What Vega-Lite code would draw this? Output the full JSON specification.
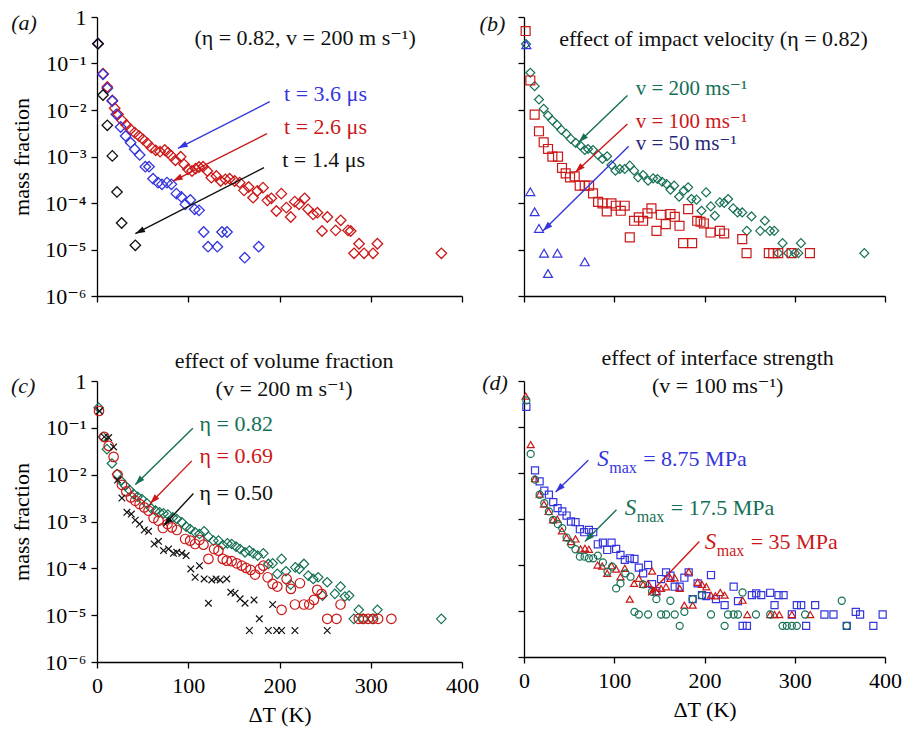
{
"$schema":"https://vega.github.io/schema/vega-lite/v6.json",
"padding":{"left":10,"top":6,"right":5,"bottom":5},
"config":{"font":"'Liberation Serif', 'Times New Roman', 'DejaVu Serif', serif","view":{"stroke":null},
"axis":{"grid":false,"domainColor":"#000","tickColor":"#000","domainWidth":1.3,"tickWidth":1.3,"tickSize":6,"labelFont":"'Liberation Serif', 'Times New Roman', 'DejaVu Serif', serif","labelFontSize":22,"labelColor":"#000","titleFont":"'Liberation Serif', 'Times New Roman', 'DejaVu Serif', serif","titleFontSize":22,"titleFontWeight":"normal","titleColor":"#000"},
"text":{"font":"'Liberation Serif', 'Times New Roman', 'DejaVu Serif', serif"}},
"datasets":{
"pa":[
{"s":"a2.6","x":1.1,"y":0.267},{"s":"a2.6","x":6.6,"y":0.0604},{"s":"a2.6","x":11.3,"y":0.0312},{"s":"a2.6","x":16.8,"y":0.0161},{"s":"a2.6","x":19.4,"y":0.0109},{"s":"a2.6","x":23,"y":0.00807},{"s":"a2.6","x":27.4,"y":0.006},{"s":"a2.6","x":32.2,"y":0.00476},{"s":"a2.6","x":36.9,"y":0.00384},{"s":"a2.6","x":41.3,"y":0.00326},{"s":"a2.6","x":46,"y":0.00276},{"s":"a2.6","x":50.4,"y":0.00234},{"s":"a2.6","x":55.2,"y":0.00192},{"s":"a2.6","x":59.6,"y":0.00155},{"s":"a2.6","x":64.3,"y":0.00136},{"s":"a2.6","x":69.1,"y":0.00127},{"s":"a2.6","x":74.2,"y":0.00138},{"s":"a2.6","x":77.8,"y":0.00121},{"s":"a2.6","x":81.5,"y":0.00103},{"s":"a2.6","x":85.9,"y":0.000828},{"s":"a2.6","x":91.7,"y":0.00099},{"s":"a2.6","x":95.4,"y":0.000679},{"s":"a2.6","x":99.7,"y":0.00053},{"s":"a2.6","x":104.1,"y":0.000488},{"s":"a2.6","x":108.1,"y":0.000547},{"s":"a2.6","x":111.8,"y":0.000594},{"s":"a2.6","x":116.2,"y":0.000604},{"s":"a2.6","x":120.9,"y":0.000488},{"s":"a2.6","x":125.3,"y":0.000351},{"s":"a2.6","x":130.8,"y":0.000381},{"s":"a2.6","x":135.5,"y":0.000297},{"s":"a2.6","x":140.7,"y":0.000323},{"s":"a2.6","x":145.4,"y":0.000333},{"s":"a2.6","x":150.9,"y":0.000297},{"s":"a2.6","x":156.4,"y":0.000274},{"s":"a2.6","x":161.1,"y":0.000187},{"s":"a2.6","x":166.2,"y":0.000221},{"s":"a2.6","x":171,"y":0.00013},{"s":"a2.6","x":175.7,"y":0.000181},{"s":"a2.6","x":181.9,"y":0.000214},{"s":"a2.6","x":186.7,"y":0.000114},{"s":"a2.6","x":191.1,"y":0.000126},{"s":"a2.6","x":196.6,"y":6.73e-5},{"s":"a2.6","x":202,"y":0.000159},{"s":"a2.6","x":207.5,"y":7.94e-5},{"s":"a2.6","x":212.3,"y":5e-5},{"s":"a2.6","x":216.7,"y":0.000107},{"s":"a2.6","x":221.4,"y":9.36e-5},{"s":"a2.6","x":227.6,"y":0.000126},{"s":"a2.6","x":231.3,"y":7.31e-5},{"s":"a2.6","x":236.8,"y":5.7e-5},{"s":"a2.6","x":241.5,"y":6.19e-5},{"s":"a2.6","x":246.6,"y":2.5e-5},{"s":"a2.6","x":252.5,"y":5e-5},{"s":"a2.6","x":261.6,"y":2.58e-5},{"s":"a2.6","x":267.1,"y":4.24e-5},{"s":"a2.6","x":275.1,"y":2.58e-5},{"s":"a2.6","x":278,"y":2.5e-5},{"s":"a2.6","x":281.7,"y":8.28e-6},{"s":"a2.6","x":287.2,"y":1.33e-5},{"s":"a2.6","x":292.7,"y":8.28e-6},{"s":"a2.6","x":302.5,"y":8.28e-6},{"s":"a2.6","x":307.3,"y":1.33e-5},{"s":"a2.6","x":377.4,"y":8.28e-6},
{"s":"a3.6","x":1.1,"y":0.267},{"s":"a3.6","x":6.6,"y":0.0585},{"s":"a3.6","x":11.3,"y":0.0292},{"s":"a3.6","x":16.8,"y":0.0156},{"s":"a3.6","x":21.2,"y":0.00807},{"s":"a3.6","x":25.9,"y":0.00431},{"s":"a3.6","x":31.4,"y":0.00276},{"s":"a3.6","x":36.9,"y":0.00198},{"s":"a3.6","x":41.3,"y":0.00143},{"s":"a3.6","x":46.8,"y":0.00108},{"s":"a3.6","x":53,"y":0.000604},{"s":"a3.6","x":57,"y":0.000604},{"s":"a3.6","x":61.4,"y":0.000333},{"s":"a3.6","x":66.9,"y":0.000274},{"s":"a3.6","x":71.2,"y":0.000252},{"s":"a3.6","x":76.7,"y":0.000274},{"s":"a3.6","x":81.5,"y":0.000252},{"s":"a3.6","x":87,"y":0.000159},{"s":"a3.6","x":92.4,"y":0.000135},{"s":"a3.6","x":96.8,"y":9.36e-5},{"s":"a3.6","x":102.3,"y":0.000116},{"s":"a3.6","x":107.1,"y":7.31e-5},{"s":"a3.6","x":111.8,"y":6.95e-5},{"s":"a3.6","x":116.9,"y":2.38e-5},{"s":"a3.6","x":121.7,"y":1.15e-5},{"s":"a3.6","x":131.9,"y":1.15e-5},{"s":"a3.6","x":137,"y":2.38e-5},{"s":"a3.6","x":142.5,"y":2.38e-5},{"s":"a3.6","x":161.9,"y":6.67e-6},{"s":"a3.6","x":177.2,"y":1.15e-5},
{"s":"a1.4","x":1.1,"y":0.267},{"s":"a1.4","x":6.6,"y":0.021},{"s":"a1.4","x":11.3,"y":0.00468},{"s":"a1.4","x":16.8,"y":0.00103},{"s":"a1.4","x":21.9,"y":0.000173},{"s":"a1.4","x":27,"y":3.72e-5},{"s":"a1.4","x":42,"y":1.23e-5}
],
"pb":[
{"s":"b200","x":2.2,"y":0.262},{"s":"b200","x":7,"y":0.0631},{"s":"b200","x":11.8,"y":0.0326},{"s":"b200","x":16.6,"y":0.0168},{"s":"b200","x":21.8,"y":0.0106},{"s":"b200","x":26.6,"y":0.0076},{"s":"b200","x":31.4,"y":0.00593},{"s":"b200","x":36.6,"y":0.00478},{"s":"b200","x":41.4,"y":0.00373},{"s":"b200","x":46.9,"y":0.00306},{"s":"b200","x":51.8,"y":0.00239},{"s":"b200","x":57.3,"y":0.00196},{"s":"b200","x":62.5,"y":0.00171},{"s":"b200","x":67.3,"y":0.00138},{"s":"b200","x":71,"y":0.00145},{"s":"b200","x":76.5,"y":0.00138},{"s":"b200","x":82.1,"y":0.00108},{"s":"b200","x":86.9,"y":0.000885},{"s":"b200","x":92.1,"y":0.00101},{"s":"b200","x":96.9,"y":0.000657},{"s":"b200","x":101.3,"y":0.000496},{"s":"b200","x":106.1,"y":0.000538},{"s":"b200","x":111.6,"y":0.000538},{"s":"b200","x":117.2,"y":0.000635},{"s":"b200","x":122,"y":0.000496},{"s":"b200","x":126.4,"y":0.000356},{"s":"b200","x":132,"y":0.0004},{"s":"b200","x":137.5,"y":0.000302},{"s":"b200","x":143.1,"y":0.000339},{"s":"b200","x":147.9,"y":0.000328},{"s":"b200","x":153,"y":0.000287},{"s":"b200","x":157.9,"y":0.000256},{"s":"b200","x":162.3,"y":0.000193},{"s":"b200","x":166.4,"y":0.000236},{"s":"b200","x":171.9,"y":0.000136},{"s":"b200","x":177.1,"y":0.000184},{"s":"b200","x":181.9,"y":0.000217},{"s":"b200","x":185.6,"y":0.000122},{"s":"b200","x":191.1,"y":0.000118},{"s":"b200","x":196.7,"y":6.81e-5},{"s":"b200","x":201.8,"y":0.000169},{"s":"b200","x":207,"y":8.45e-5},{"s":"b200","x":211.5,"y":5.32e-5},{"s":"b200","x":217,"y":0.000103},{"s":"b200","x":221.8,"y":9.98e-5},{"s":"b200","x":226.2,"y":0.000122},{"s":"b200","x":231.8,"y":7.65e-5},{"s":"b200","x":236.6,"y":6.27e-5},{"s":"b200","x":241.8,"y":6.27e-5},{"s":"b200","x":246.9,"y":2.52e-5},{"s":"b200","x":252.1,"y":5.14e-5},{"s":"b200","x":261.7,"y":2.52e-5},{"s":"b200","x":266.9,"y":4.15e-5},{"s":"b200","x":272.5,"y":2.52e-5},{"s":"b200","x":277.3,"y":2.52e-5},{"s":"b200","x":281.7,"y":8.34e-6},{"s":"b200","x":286.5,"y":1.37e-5},{"s":"b200","x":292.8,"y":8.34e-6},{"s":"b200","x":300.2,"y":8.34e-6},{"s":"b200","x":303.9,"y":8.34e-6},{"s":"b200","x":306.8,"y":1.37e-5},{"s":"b200","x":377.1,"y":8.34e-6},
{"s":"b100","x":1.8,"y":0.499},{"s":"b100","x":7,"y":0.0432},{"s":"b100","x":11.8,"y":0.00798},{"s":"b100","x":16.6,"y":0.00349},{"s":"b100","x":21.8,"y":0.00202},{"s":"b100","x":26.6,"y":0.00145},{"s":"b100","x":31.4,"y":0.000993},{"s":"b100","x":37.7,"y":0.000993},{"s":"b100","x":42.1,"y":0.000566},{"s":"b100","x":46.2,"y":0.000435},{"s":"b100","x":51,"y":0.000356},{"s":"b100","x":56.2,"y":0.000374},{"s":"b100","x":61.7,"y":0.000236},{"s":"b100","x":67.3,"y":0.000236},{"s":"b100","x":72.1,"y":0.000236},{"s":"b100","x":76.5,"y":0.000161},{"s":"b100","x":82.1,"y":0.000106},{"s":"b100","x":86.9,"y":9.8e-5},{"s":"b100","x":91.7,"y":6.59e-5},{"s":"b100","x":96.9,"y":9.8e-5},{"s":"b100","x":101.7,"y":8.73e-5},{"s":"b100","x":107.2,"y":6.81e-5},{"s":"b100","x":111.6,"y":8.73e-5},{"s":"b100","x":117.2,"y":1.82e-5},{"s":"b100","x":122,"y":4.15e-5},{"s":"b100","x":127.2,"y":4.9e-5},{"s":"b100","x":132,"y":4.15e-5},{"s":"b100","x":136.8,"y":5.97e-5},{"s":"b100","x":141.2,"y":7.65e-5},{"s":"b100","x":146.8,"y":2.52e-5},{"s":"b100","x":151.6,"y":5.58e-5},{"s":"b100","x":157.1,"y":3.52e-5},{"s":"b100","x":162.3,"y":5.77e-5},{"s":"b100","x":167.1,"y":5.06e-5},{"s":"b100","x":172.3,"y":3.24e-5},{"s":"b100","x":176.3,"y":1.37e-5},{"s":"b100","x":181.9,"y":7.4e-5},{"s":"b100","x":186.3,"y":1.37e-5},{"s":"b100","x":191.9,"y":4.15e-5},{"s":"b100","x":195.6,"y":3.95e-5},{"s":"b100","x":199.3,"y":3.63e-5},{"s":"b100","x":206.7,"y":2.32e-5},{"s":"b100","x":217,"y":2.52e-5},{"s":"b100","x":221.8,"y":2.21e-5},{"s":"b100","x":241.8,"y":1.67e-5},{"s":"b100","x":246.6,"y":8.34e-6},{"s":"b100","x":271.3,"y":8.34e-6},{"s":"b100","x":276.2,"y":8.34e-6},{"s":"b100","x":281.7,"y":8.34e-6},{"s":"b100","x":296.5,"y":8.34e-6},{"s":"b100","x":316.8,"y":8.34e-6},
{"s":"b50","x":2.6,"y":0.253},{"s":"b50","x":7,"y":0.000175},{"s":"b50","x":11.8,"y":6.48e-5},{"s":"b50","x":16.6,"y":2.84e-5},{"s":"b50","x":22.2,"y":8.34e-6},{"s":"b50","x":26.6,"y":3.04e-6},{"s":"b50","x":37,"y":8.34e-6},{"s":"b50","x":67.3,"y":5.42e-6}
],
"pc":[
{"s":"c0.82","x":1.8,"y":0.27},{"s":"c0.82","x":6.6,"y":0.0641},{"s":"c0.82","x":10.9,"y":0.035},{"s":"c0.82","x":16.4,"y":0.0173},{"s":"c0.82","x":21.9,"y":0.0103},{"s":"c0.82","x":26.2,"y":0.0074},{"s":"c0.82","x":31,"y":0.00579},{"s":"c0.82","x":35.7,"y":0.00468},{"s":"c0.82","x":40.1,"y":0.00385},{"s":"c0.82","x":44.5,"y":0.00338},{"s":"c0.82","x":49.2,"y":0.00301},{"s":"c0.82","x":54.7,"y":0.00243},{"s":"c0.82","x":59.1,"y":0.00194},{"s":"c0.82","x":64.2,"y":0.0017},{"s":"c0.82","x":68.5,"y":0.00157},{"s":"c0.82","x":72.9,"y":0.00149},{"s":"c0.82","x":77.7,"y":0.0014},{"s":"c0.82","x":83.1,"y":0.00122},{"s":"c0.82","x":87.5,"y":0.00113},{"s":"c0.82","x":93,"y":0.000959},{"s":"c0.82","x":97.7,"y":0.000775},{"s":"c0.82","x":102.1,"y":0.00069},{"s":"c0.82","x":107.5,"y":0.000586},{"s":"c0.82","x":112.3,"y":0.00054},{"s":"c0.82","x":117.4,"y":0.000616},{"s":"c0.82","x":122.1,"y":0.000474},{"s":"c0.82","x":127.6,"y":0.00039},{"s":"c0.82","x":133.1,"y":0.00039},{"s":"c0.82","x":137.8,"y":0.000315},{"s":"c0.82","x":142.9,"y":0.000342},{"s":"c0.82","x":147.6,"y":0.000331},{"s":"c0.82","x":152.4,"y":0.00029},{"s":"c0.82","x":156.8,"y":0.000259},{"s":"c0.82","x":162.2,"y":0.00022},{"s":"c0.82","x":167,"y":0.000239},{"s":"c0.82","x":171.3,"y":0.000209},{"s":"c0.82","x":176.1,"y":0.000187},{"s":"c0.82","x":182.3,"y":0.000209},{"s":"c0.82","x":187.8,"y":0.000124},{"s":"c0.82","x":192.5,"y":0.000128},{"s":"c0.82","x":197.6,"y":7.6e-5},{"s":"c0.82","x":202.3,"y":0.000159},{"s":"c0.82","x":207.1,"y":8.66e-5},{"s":"c0.82","x":212.2,"y":4.5e-5},{"s":"c0.82","x":217.3,"y":0.000105},{"s":"c0.82","x":221.7,"y":9.7e-5},{"s":"c0.82","x":226.8,"y":0.000124},{"s":"c0.82","x":231.5,"y":7e-5},{"s":"c0.82","x":237,"y":5.94e-5},{"s":"c0.82","x":242.4,"y":6.45e-5},{"s":"c0.82","x":247.2,"y":2.62e-5},{"s":"c0.82","x":252.3,"y":5.05e-5},{"s":"c0.82","x":260.7,"y":2.85e-5},{"s":"c0.82","x":266.9,"y":4.08e-5},{"s":"c0.82","x":271.6,"y":2.5e-5},{"s":"c0.82","x":276.3,"y":2.62e-5},{"s":"c0.82","x":281.4,"y":8.35e-6},{"s":"c0.82","x":286.9,"y":1.3e-5},{"s":"c0.82","x":291.7,"y":8.35e-6},{"s":"c0.82","x":301.9,"y":8.35e-6},{"s":"c0.82","x":307.3,"y":1.3e-5},{"s":"c0.82","x":377.3,"y":8.35e-6},
{"s":"c0.69","x":2.2,"y":0.23},{"s":"c0.69","x":8,"y":0.0641},{"s":"c0.69","x":12.8,"y":0.0412},{"s":"c0.69","x":18.2,"y":0.024},{"s":"c0.69","x":22.6,"y":0.00993},{"s":"c0.69","x":27.3,"y":0.00608},{"s":"c0.69","x":32.1,"y":0.00439},{"s":"c0.69","x":37.2,"y":0.00327},{"s":"c0.69","x":41.9,"y":0.00277},{"s":"c0.69","x":46.7,"y":0.00236},{"s":"c0.69","x":51.8,"y":0.002},{"s":"c0.69","x":56.5,"y":0.0017},{"s":"c0.69","x":62,"y":0.00119},{"s":"c0.69","x":67.4,"y":0.00104},{"s":"c0.69","x":72.2,"y":0.000726},{"s":"c0.69","x":77.3,"y":0.000883},{"s":"c0.69","x":82,"y":0.00075},{"s":"c0.69","x":87.5,"y":0.000658},{"s":"c0.69","x":96.6,"y":0.000423},{"s":"c0.69","x":102.1,"y":0.00039},{"s":"c0.69","x":107.5,"y":0.000331},{"s":"c0.69","x":112.3,"y":0.000403},{"s":"c0.69","x":116.7,"y":0.00032},{"s":"c0.69","x":122.1,"y":0.000159},{"s":"c0.69","x":128.3,"y":0.000259},{"s":"c0.69","x":133.1,"y":0.000239},{"s":"c0.69","x":137.8,"y":0.000159},{"s":"c0.69","x":142.2,"y":0.000146},{"s":"c0.69","x":147.6,"y":0.000142},{"s":"c0.69","x":153.1,"y":0.000128},{"s":"c0.69","x":158.6,"y":0.000114},{"s":"c0.69","x":163.3,"y":0.000102},{"s":"c0.69","x":168.4,"y":9.25e-5},{"s":"c0.69","x":173.2,"y":7.35e-5},{"s":"c0.69","x":178.6,"y":9.7e-5},{"s":"c0.69","x":182.3,"y":0.000114},{"s":"c0.69","x":187,"y":6.45e-5},{"s":"c0.69","x":192.5,"y":4.65e-5},{"s":"c0.69","x":197.6,"y":4.08e-5},{"s":"c0.69","x":202.3,"y":1.3e-5},{"s":"c0.69","x":207.8,"y":5.94e-5},{"s":"c0.69","x":212.5,"y":3.64e-5},{"s":"c0.69","x":216.9,"y":1.69e-5},{"s":"c0.69","x":222.4,"y":4.81e-5},{"s":"c0.69","x":226.8,"y":1.69e-5},{"s":"c0.69","x":232.6,"y":1.69e-5},{"s":"c0.69","x":237.7,"y":2.12e-5},{"s":"c0.69","x":241.3,"y":3.47e-5},{"s":"c0.69","x":246.1,"y":2.85e-5},{"s":"c0.69","x":252.3,"y":8.35e-6},{"s":"c0.69","x":262.5,"y":8.35e-6},{"s":"c0.69","x":266.9,"y":1.69e-5},{"s":"c0.69","x":286.9,"y":8.35e-6},{"s":"c0.69","x":291.7,"y":8.35e-6},{"s":"c0.69","x":297.1,"y":8.35e-6},{"s":"c0.69","x":302.6,"y":8.35e-6},{"s":"c0.69","x":308.1,"y":8.35e-6},{"s":"c0.69","x":322.6,"y":8.35e-6},
{"s":"c0.50","x":2.6,"y":0.23},{"s":"c0.50","x":8,"y":0.0641},{"s":"c0.50","x":12.8,"y":0.062},{"s":"c0.50","x":18.2,"y":0.0392},{"s":"c0.50","x":22.6,"y":0.00765},{"s":"c0.50","x":27.3,"y":0.00316},{"s":"c0.50","x":32.8,"y":0.00157},{"s":"c0.50","x":37.6,"y":0.00144},{"s":"c0.50","x":41.9,"y":0.00107},{"s":"c0.50","x":46.7,"y":0.000883},{"s":"c0.50","x":51.8,"y":0.000658},{"s":"c0.50","x":56.5,"y":0.000616},{"s":"c0.50","x":62.7,"y":0.000331},{"s":"c0.50","x":67.4,"y":0.000377},{"s":"c0.50","x":72.9,"y":0.000239},{"s":"c0.50","x":78.4,"y":0.000259},{"s":"c0.50","x":83.8,"y":0.000209},{"s":"c0.50","x":87.5,"y":0.00022},{"s":"c0.50","x":93,"y":0.000209},{"s":"c0.50","x":97.7,"y":0.000187},{"s":"c0.50","x":102.8,"y":9.7e-5},{"s":"c0.50","x":107.5,"y":6.45e-5},{"s":"c0.50","x":112.3,"y":0.000114},{"s":"c0.50","x":117.4,"y":5.94e-5},{"s":"c0.50","x":122.1,"y":1.8e-5},{"s":"c0.50","x":125.8,"y":5.66e-5},{"s":"c0.50","x":130.5,"y":5.94e-5},{"s":"c0.50","x":134.9,"y":5.66e-5},{"s":"c0.50","x":142.2,"y":5.94e-5},{"s":"c0.50","x":146.6,"y":3.09e-5},{"s":"c0.50","x":151.3,"y":2.94e-5},{"s":"c0.50","x":156.8,"y":2.23e-5},{"s":"c0.50","x":162.2,"y":1.8e-5},{"s":"c0.50","x":167,"y":4.71e-6},{"s":"c0.50","x":172.1,"y":2.12e-5},{"s":"c0.50","x":177.9,"y":8.35e-6},{"s":"c0.50","x":187.8,"y":4.71e-6},{"s":"c0.50","x":192.5,"y":1.69e-5},{"s":"c0.50","x":196.9,"y":4.71e-6},{"s":"c0.50","x":202.3,"y":4.71e-6},{"s":"c0.50","x":216.9,"y":4.71e-6},{"s":"c0.50","x":252.3,"y":4.71e-6}
],
"pd":[
{"s":"d8.75","x":2.6,"y":0.275},{"s":"d8.75","x":12.2,"y":0.0114},{"s":"d8.75","x":17.3,"y":0.00658},{"s":"d8.75","x":22.5,"y":0.00412},{"s":"d8.75","x":27.6,"y":0.00337},{"s":"d8.75","x":32.4,"y":0.00233},{"s":"d8.75","x":37.2,"y":0.00172},{"s":"d8.75","x":42.4,"y":0.00146},{"s":"d8.75","x":47.2,"y":0.00119},{"s":"d8.75","x":52,"y":0.000882},{"s":"d8.75","x":57.1,"y":0.000853},{"s":"d8.75","x":61.9,"y":0.0006},{"s":"d8.75","x":66.7,"y":0.000516},{"s":"d8.75","x":71.9,"y":0.00058},{"s":"d8.75","x":76.7,"y":0.000516},{"s":"d8.75","x":81.8,"y":0.000282},{"s":"d8.75","x":87.4,"y":0.000307},{"s":"d8.75","x":92.2,"y":0.000212},{"s":"d8.75","x":97,"y":0.000307},{"s":"d8.75","x":102.1,"y":0.000223},{"s":"d8.75","x":106.9,"y":0.000165},{"s":"d8.75","x":111.7,"y":0.000129},{"s":"d8.75","x":117.2,"y":0.00014},{"s":"d8.75","x":122.4,"y":0.000135},{"s":"d8.75","x":127.2,"y":8.75e-5},{"s":"d8.75","x":132,"y":6.58e-5},{"s":"d8.75","x":137.5,"y":0.0001},{"s":"d8.75","x":141.9,"y":3.85e-5},{"s":"d8.75","x":146.7,"y":2.71e-5},{"s":"d8.75","x":151.9,"y":4.95e-5},{"s":"d8.75","x":157.4,"y":6.92e-5},{"s":"d8.75","x":162.2,"y":5.85e-5},{"s":"d8.75","x":167,"y":3.37e-5},{"s":"d8.75","x":172.5,"y":3.37e-5},{"s":"d8.75","x":177.7,"y":5.29e-5},{"s":"d8.75","x":182.5,"y":6.92e-5},{"s":"d8.75","x":186.9,"y":1.81e-5},{"s":"d8.75","x":192.4,"y":3.98e-5},{"s":"d8.75","x":197.2,"y":2.21e-5},{"s":"d8.75","x":202,"y":2.11e-5},{"s":"d8.75","x":207.2,"y":6.05e-5},{"s":"d8.75","x":212.7,"y":1.81e-5},{"s":"d8.75","x":222.3,"y":1.34e-5},{"s":"d8.75","x":232.3,"y":3.37e-5},{"s":"d8.75","x":237.1,"y":1.64e-5},{"s":"d8.75","x":242.2,"y":4.75e-6},{"s":"d8.75","x":247,"y":4.75e-6},{"s":"d8.75","x":252.5,"y":2.21e-5},{"s":"d8.75","x":257.3,"y":2.41e-5},{"s":"d8.75","x":262.9,"y":2.21e-5},{"s":"d8.75","x":272.8,"y":2.49e-5},{"s":"d8.75","x":277.6,"y":1.34e-5},{"s":"d8.75","x":282,"y":2.21e-5},{"s":"d8.75","x":287.6,"y":2.21e-5},{"s":"d8.75","x":296.8,"y":8.39e-6},{"s":"d8.75","x":302.3,"y":1.34e-5},{"s":"d8.75","x":307.1,"y":1.34e-5},{"s":"d8.75","x":312.6,"y":4.75e-6},{"s":"d8.75","x":322.6,"y":1.34e-5},{"s":"d8.75","x":332.9,"y":8.39e-6},{"s":"d8.75","x":342.9,"y":8.39e-6},{"s":"d8.75","x":357.6,"y":4.75e-6},{"s":"d8.75","x":367.6,"y":9.6e-6},{"s":"d8.75","x":372.4,"y":8.39e-6},{"s":"d8.75","x":387.1,"y":4.75e-6},{"s":"d8.75","x":397.4,"y":8.39e-6},
{"s":"d35","x":1.8,"y":0.471},{"s":"d35","x":7.4,"y":0.0415},{"s":"d35","x":12.2,"y":0.00752},{"s":"d35","x":17.3,"y":0.00348},{"s":"d35","x":22.1,"y":0.00211},{"s":"d35","x":27.3,"y":0.00146},{"s":"d35","x":32.1,"y":0.000959},{"s":"d35","x":36.9,"y":0.00099},{"s":"d35","x":42,"y":0.000552},{"s":"d35","x":47.2,"y":0.000395},{"s":"d35","x":52,"y":0.000323},{"s":"d35","x":57.1,"y":0.000369},{"s":"d35","x":62.7,"y":0.000223},{"s":"d35","x":67.5,"y":0.000231},{"s":"d35","x":71.9,"y":0.00022},{"s":"d35","x":81.5,"y":0.0001},{"s":"d35","x":86.6,"y":9.51e-5},{"s":"d35","x":92.2,"y":6.58e-5},{"s":"d35","x":97,"y":9.66e-5},{"s":"d35","x":102.1,"y":8.18e-5},{"s":"d35","x":106.9,"y":5.56e-5},{"s":"d35","x":111.7,"y":8.45e-5},{"s":"d35","x":117.2,"y":1.81e-5},{"s":"d35","x":122,"y":3.98e-5},{"s":"d35","x":127.2,"y":5.12e-5},{"s":"d35","x":132,"y":3.79e-5},{"s":"d35","x":137.5,"y":3.98e-5},{"s":"d35","x":141.9,"y":7.4e-5},{"s":"d35","x":146.7,"y":2.62e-5},{"s":"d35","x":151.9,"y":3.1e-5},{"s":"d35","x":157.4,"y":3.37e-5},{"s":"d35","x":162.2,"y":5.12e-5},{"s":"d35","x":167,"y":5.29e-5},{"s":"d35","x":172.5,"y":3.1e-5},{"s":"d35","x":177.7,"y":1.34e-5},{"s":"d35","x":182.5,"y":7.16e-5},{"s":"d35","x":186.9,"y":1.34e-5},{"s":"d35","x":192.4,"y":4.19e-5},{"s":"d35","x":197.2,"y":3.79e-5},{"s":"d35","x":202,"y":3.37e-5},{"s":"d35","x":207.2,"y":2.21e-5},{"s":"d35","x":212,"y":2.14e-5},{"s":"d35","x":217.5,"y":2.53e-5},{"s":"d35","x":222.3,"y":2.21e-5},{"s":"d35","x":242.2,"y":1.72e-5},{"s":"d35","x":247.4,"y":8.39e-6},{"s":"d35","x":272.8,"y":8.39e-6},{"s":"d35","x":277.6,"y":8.39e-6},{"s":"d35","x":282.8,"y":8.39e-6},{"s":"d35","x":296.8,"y":8.39e-6},{"s":"d35","x":317.1,"y":8.39e-6},
{"s":"d17.5","x":2.6,"y":0.379},{"s":"d17.5","x":7.4,"y":0.026},{"s":"d17.5","x":12.2,"y":0.00716},{"s":"d17.5","x":17.3,"y":0.00337},{"s":"d17.5","x":22.5,"y":0.00221},{"s":"d17.5","x":27.6,"y":0.00146},{"s":"d17.5","x":32.4,"y":0.000959},{"s":"d17.5","x":37.6,"y":0.000771},{"s":"d17.5","x":42.4,"y":0.000631},{"s":"d17.5","x":47.2,"y":0.000395},{"s":"d17.5","x":52.3,"y":0.000282},{"s":"d17.5","x":57.1,"y":0.00022},{"s":"d17.5","x":61.9,"y":0.000152},{"s":"d17.5","x":67.1,"y":0.000152},{"s":"d17.5","x":71.9,"y":0.00014},{"s":"d17.5","x":76.7,"y":0.00014},{"s":"d17.5","x":81.8,"y":0.00016},{"s":"d17.5","x":87.4,"y":0.000114},{"s":"d17.5","x":92.5,"y":7.16e-5},{"s":"d17.5","x":97.7,"y":9.2e-5},{"s":"d17.5","x":102.1,"y":3.1e-5},{"s":"d17.5","x":106.9,"y":3.98e-5},{"s":"d17.5","x":112.4,"y":6.58e-5},{"s":"d17.5","x":118,"y":5.56e-5},{"s":"d17.5","x":122.4,"y":9.6e-6},{"s":"d17.5","x":127.2,"y":8.39e-6},{"s":"d17.5","x":132,"y":3.79e-5},{"s":"d17.5","x":137.5,"y":8.39e-6},{"s":"d17.5","x":141.9,"y":2.62e-5},{"s":"d17.5","x":146.7,"y":1.81e-5},{"s":"d17.5","x":151.9,"y":8.39e-6},{"s":"d17.5","x":157.4,"y":8.39e-6},{"s":"d17.5","x":162.2,"y":1.67e-5},{"s":"d17.5","x":167,"y":8.39e-6},{"s":"d17.5","x":172.5,"y":4.75e-6},{"s":"d17.5","x":177.7,"y":9.6e-6},{"s":"d17.5","x":186.9,"y":1.81e-5},{"s":"d17.5","x":197.2,"y":2.21e-5},{"s":"d17.5","x":207.2,"y":8.39e-6},{"s":"d17.5","x":222.3,"y":4.75e-6},{"s":"d17.5","x":226,"y":8.39e-6},{"s":"d17.5","x":232.3,"y":8.39e-6},{"s":"d17.5","x":237.1,"y":8.39e-6},{"s":"d17.5","x":242.2,"y":2.53e-5},{"s":"d17.5","x":257,"y":8.39e-6},{"s":"d17.5","x":272.8,"y":8.39e-6},{"s":"d17.5","x":286.5,"y":4.75e-6},{"s":"d17.5","x":291.2,"y":4.75e-6},{"s":"d17.5","x":296.8,"y":4.75e-6},{"s":"d17.5","x":302.3,"y":4.75e-6},{"s":"d17.5","x":311.5,"y":8.39e-6},{"s":"d17.5","x":352.1,"y":1.67e-5},{"s":"d17.5","x":357.6,"y":4.75e-6}
],
"na":[
{"k":"arrow","s":"a3.6","x":189.3,"y":0.0151,"x2":88.8,"y2":0.0015},
{"k":"arrow","s":"a2.6","x":186.3,"y":0.0031,"x2":83.3,"y2":0.000297},
{"k":"arrow","s":"a1.4","x":183,"y":0.000575,"x2":42,"y2":2.19e-5},
{"k":"lab","s":"a3.6","x":205,"y":0.0217,"t":"t = 3.6 μs"},
{"k":"lab","s":"a2.6","x":205,"y":0.0043,"t":"t = 2.6 μs"},
{"k":"lab","s":"a1.4","x":203,"y":0.00083,"t":"t = 1.4 μs"},
{"k":"ctr","s":"k","x":228,"y":0.36,"t":"(η = 0.82, v = 200 m s⁻¹)"},
{"k":"tag","s":"k","x":-80,"y":0.743,"t":"(a)"}
],
"nb":[
{"k":"arrow","s":"b200","x":114.6,"y":0.0205,"x2":60.6,"y2":0.00202},
{"k":"arrow","s":"b100","x":114.6,"y":0.00502,"x2":56.9,"y2":0.000457},
{"k":"arrow","s":"b50","x":116,"y":0.00166,"x2":21.1,"y2":2.52e-5},
{"k":"lab","s":"b200","x":123.8,"y":0.0276,"t":"v = 200 ms⁻¹"},
{"k":"lab","s":"b100","x":123.8,"y":0.00564,"t":"v = 100 ms⁻¹"},
{"k":"lab","s":"b50t","x":123.8,"y":0.00186,"t":"v = 50 ms⁻¹"},
{"k":"ctr","s":"k","x":210,"y":0.34,"t":"effect of impact velocity (η = 0.82)"},
{"k":"tag","s":"k","x":-35,"y":0.706,"t":"(b)"}
],
"nc":[
{"k":"arrow","s":"c0.82","x":105,"y":0.098,"x2":41.9,"y2":0.00608},
{"k":"arrow","s":"c0.69","x":103.9,"y":0.0197,"x2":58.3,"y2":0.00243},
{"k":"arrow","s":"c0.50","x":105.7,"y":0.00398,"x2":72.9,"y2":0.000813},
{"k":"lab","s":"c0.82","x":112.3,"y":0.123,"t":"η = 0.82"},
{"k":"lab","s":"c0.69","x":112.3,"y":0.0252,"t":"η = 0.69"},
{"k":"lab","s":"c0.50","x":112.3,"y":0.00398,"t":"η = 0.50"},
{"k":"ctr","s":"k","x":205,"y":2.67,"t":"effect of volume fraction"},
{"k":"ctr","s":"k","x":205,"y":0.664,"t":"(v = 200 m s⁻¹)"},
{"k":"tag","s":"k","x":-81,"y":0.78,"t":"(c)"}
],
"nd":[
{"k":"arrow","s":"d8.75","x":71.2,"y":0.0189,"x2":35,"y2":0.00385},
{"k":"arrow","s":"d17.5","x":102.5,"y":0.00158,"x2":67.5,"y2":0.000323},
{"k":"arrow","s":"d35","x":194.3,"y":0.000323,"x2":137.5,"y2":2.21e-5},
{"k":"S","s":"d8.75","x":81.1,"y":0.0206,"t":"S","t2":"max","t3":"= 8.75 MPa"},
{"k":"S","s":"d17.5","x":111.7,"y":0.00172,"t":"S","t2":"max","t3":"= 17.5 MPa"},
{"k":"S","s":"d35","x":200.2,"y":0.000323,"t":"S","t2":"max","t3":"= 35 MPa"},
{"k":"ctr","s":"k","x":214.6,"y":3.23,"t":"effect of interface strength"},
{"k":"ctr","s":"k","x":214.6,"y":0.778,"t":"(v = 100 ms⁻¹)"},
{"k":"tag","s":"k","x":-32,"y":0.92,"t":"(d)"}
]
},
"columns":2,
"spacing":{"row":85,"column":62},
"bounds":"flush",
"concat":[
{"width":365,"height":279,"layer":[
{"data":{"name":"pa"},"mark":{"type":"point","size":110,"strokeWidth":1.3,"opacity":1},
"encoding":{"x":{"field":"x","type":"quantitative","scale":{"domain":[0,400]},"axis":{"values":[0,100,200,300,400],"labels":false,"title":null}},
"y":{"field":"y","type":"quantitative","scale":{"type":"log","domain":[0.000001,1]},"axis":{"values":[0.000001,0.00001,0.0001,0.001,0.01,0.1,1],"title":"mass fraction","titlePadding":11,"labelPadding":5,"labelOverlap":false,"labelFlush":false,"labelExpr":"datum.value > 0.5 ? '1' : datum.value > 0.05 ? '10⁻¹' : datum.value > 0.005 ? '10⁻²' : datum.value > 0.0005 ? '10⁻³' : datum.value > 0.00005 ? '10⁻⁴' : datum.value > 0.000005 ? '10⁻⁵' : '10⁻⁶'"}},
"color":{"field":"s","type":"nominal","legend":null,"scale":{"domain":["a1.4","a2.6","a3.6","b200","b100","b50","b50t","c0.82","c0.69","c0.50","d8.75","d17.5","d35","k"],"range":["#111111","#cc1818","#3535dd","#157055","#cc1818","#3535dd","#28287a","#157055","#cc1818","#111111","#3535dd","#157055","#cc1818","#111111"]}},
"shape":{"field":"s","type":"nominal","legend":null,"scale":{"domain":["a1.4","a2.6","a3.6","b200","b100","b50","c0.82","c0.69","c0.50","d8.75","d17.5","d35"],"range":["diamond","diamond","diamond","diamond","square","triangle-up","diamond","circle","M-0.7,-0.7L0.7,0.7M0.7,-0.7L-0.7,0.7","square","circle","triangle-up"]}}}},
{"data":{"name":"na"},"transform":[{"filter":"datum.k == 'arrow'"}],"mark":{"type":"rule","strokeWidth":1.4},
"encoding":{"x":{"field":"x","type":"quantitative"},"y":{"field":"y","type":"quantitative"},"x2":{"field":"x2"},"y2":{"field":"y2"},
"color":{"field":"s","type":"nominal","legend":null,"scale":{"domain":["a1.4","a2.6","a3.6","b200","b100","b50","b50t","c0.82","c0.69","c0.50","d8.75","d17.5","d35","k"],"range":["#111111","#cc1818","#3535dd","#157055","#cc1818","#3535dd","#28287a","#157055","#cc1818","#111111","#3535dd","#157055","#cc1818","#111111"]}}}},
{"data":{"name":"na"},"transform":[{"filter":"datum.k == 'arrow'"}],"mark":{"type":"point","shape":"M0,0L0.33,1L-0.33,1Z","filled":true,"size":380,"angle":-117,"opacity":1},
"encoding":{"x":{"field":"x2","type":"quantitative"},"y":{"field":"y2","type":"quantitative"},
"color":{"field":"s","type":"nominal","legend":null,"scale":{"domain":["a1.4","a2.6","a3.6","b200","b100","b50","b50t","c0.82","c0.69","c0.50","d8.75","d17.5","d35","k"],"range":["#111111","#cc1818","#3535dd","#157055","#cc1818","#3535dd","#28287a","#157055","#cc1818","#111111","#3535dd","#157055","#cc1818","#111111"]}}}},
{"data":{"name":"na"},"transform":[{"filter":"datum.k == 'lab'"}],"mark":{"type":"text","align":"left","baseline":"middle","fontSize":22},
"encoding":{"x":{"field":"x","type":"quantitative"},"y":{"field":"y","type":"quantitative"},"text":{"field":"t"},
"color":{"field":"s","type":"nominal","legend":null,"scale":{"domain":["a1.4","a2.6","a3.6","b200","b100","b50","b50t","c0.82","c0.69","c0.50","d8.75","d17.5","d35","k"],"range":["#111111","#cc1818","#3535dd","#157055","#cc1818","#3535dd","#28287a","#157055","#cc1818","#111111","#3535dd","#157055","#cc1818","#111111"]}}}},
{"data":{"name":"na"},"transform":[{"filter":"datum.k == 'ctr'"}],"mark":{"type":"text","align":"center","baseline":"middle","fontSize":22,"color":"#111111"},
"encoding":{"x":{"field":"x","type":"quantitative"},"y":{"field":"y","type":"quantitative"},"text":{"field":"t"}}},
{"data":{"name":"na"},"transform":[{"filter":"datum.k == 'tag'"}],"mark":{"type":"text","align":"center","baseline":"middle","fontSize":22,"fontStyle":"italic","color":"#111111"},
"encoding":{"x":{"field":"x","type":"quantitative"},"y":{"field":"y","type":"quantitative"},"text":{"field":"t"}}}
]},
{"width":361,"height":279,"layer":[
{"data":{"name":"pb"},"mark":{"type":"point","size":80,"strokeWidth":1.2,"opacity":1},
"encoding":{"x":{"field":"x","type":"quantitative","scale":{"domain":[0,400]},"axis":{"values":[0,100,200,300,400],"labels":false,"title":null}},
"y":{"field":"y","type":"quantitative","scale":{"type":"log","domain":[0.000001,1]},"axis":{"values":[0.000001,0.00001,0.0001,0.001,0.01,0.1,1],"labels":false,"title":null}},
"color":{"field":"s","type":"nominal","legend":null,"scale":{"domain":["a1.4","a2.6","a3.6","b200","b100","b50","b50t","c0.82","c0.69","c0.50","d8.75","d17.5","d35","k"],"range":["#111111","#cc1818","#3535dd","#157055","#cc1818","#3535dd","#28287a","#157055","#cc1818","#111111","#3535dd","#157055","#cc1818","#111111"]}},
"shape":{"field":"s","type":"nominal","legend":null,"scale":{"domain":["a1.4","a2.6","a3.6","b200","b100","b50","c0.82","c0.69","c0.50","d8.75","d17.5","d35"],"range":["diamond","diamond","diamond","diamond","square","triangle-up","diamond","circle","M-0.7,-0.7L0.7,0.7M0.7,-0.7L-0.7,0.7","square","circle","triangle-up"]}}}},
{"data":{"name":"nb"},"transform":[{"filter":"datum.k == 'arrow'"}],"mark":{"type":"rule","strokeWidth":1.4},
"encoding":{"x":{"field":"x","type":"quantitative"},"y":{"field":"y","type":"quantitative"},"x2":{"field":"x2"},"y2":{"field":"y2"},
"color":{"field":"s","type":"nominal","legend":null,"scale":{"domain":["a1.4","a2.6","a3.6","b200","b100","b50","b50t","c0.82","c0.69","c0.50","d8.75","d17.5","d35","k"],"range":["#111111","#cc1818","#3535dd","#157055","#cc1818","#3535dd","#28287a","#157055","#cc1818","#111111","#3535dd","#157055","#cc1818","#111111"]}}}},
{"data":{"name":"nb"},"transform":[{"filter":"datum.k == 'arrow'"}],"mark":{"type":"point","shape":"M0,0L0.33,1L-0.33,1Z","filled":true,"size":380,"angle":-134,"opacity":1},
"encoding":{"x":{"field":"x2","type":"quantitative"},"y":{"field":"y2","type":"quantitative"},
"color":{"field":"s","type":"nominal","legend":null,"scale":{"domain":["a1.4","a2.6","a3.6","b200","b100","b50","b50t","c0.82","c0.69","c0.50","d8.75","d17.5","d35","k"],"range":["#111111","#cc1818","#3535dd","#157055","#cc1818","#3535dd","#28287a","#157055","#cc1818","#111111","#3535dd","#157055","#cc1818","#111111"]}}}},
{"data":{"name":"nb"},"transform":[{"filter":"datum.k == 'lab'"}],"mark":{"type":"text","align":"left","baseline":"middle","fontSize":21},
"encoding":{"x":{"field":"x","type":"quantitative"},"y":{"field":"y","type":"quantitative"},"text":{"field":"t"},
"color":{"field":"s","type":"nominal","legend":null,"scale":{"domain":["a1.4","a2.6","a3.6","b200","b100","b50","b50t","c0.82","c0.69","c0.50","d8.75","d17.5","d35","k"],"range":["#111111","#cc1818","#3535dd","#157055","#cc1818","#3535dd","#28287a","#157055","#cc1818","#111111","#3535dd","#157055","#cc1818","#111111"]}}}},
{"data":{"name":"nb"},"transform":[{"filter":"datum.k == 'ctr'"}],"mark":{"type":"text","align":"center","baseline":"middle","fontSize":22,"color":"#111111"},
"encoding":{"x":{"field":"x","type":"quantitative"},"y":{"field":"y","type":"quantitative"},"text":{"field":"t"}}},
{"data":{"name":"nb"},"transform":[{"filter":"datum.k == 'tag'"}],"mark":{"type":"text","align":"center","baseline":"middle","fontSize":22,"fontStyle":"italic","color":"#111111"},
"encoding":{"x":{"field":"x","type":"quantitative"},"y":{"field":"y","type":"quantitative"},"text":{"field":"t"}}}
]},
{"width":365,"height":281,"layer":[
{"data":{"name":"pc"},"mark":{"type":"point","size":90,"strokeWidth":1.2,"opacity":1},
"encoding":{"x":{"field":"x","type":"quantitative","scale":{"domain":[0,400]},"axis":{"values":[0,100,200,300,400],"title":"ΔT (K)","labelPadding":7,"titlePadding":8,"labelFlush":false,"labelOverlap":false}},
"y":{"field":"y","type":"quantitative","scale":{"type":"log","domain":[0.000001,1]},"axis":{"values":[0.000001,0.00001,0.0001,0.001,0.01,0.1,1],"title":"mass fraction","titlePadding":11,"labelPadding":5,"labelOverlap":false,"labelFlush":false,"labelExpr":"datum.value > 0.5 ? '1' : datum.value > 0.05 ? '10⁻¹' : datum.value > 0.005 ? '10⁻²' : datum.value > 0.0005 ? '10⁻³' : datum.value > 0.00005 ? '10⁻⁴' : datum.value > 0.000005 ? '10⁻⁵' : '10⁻⁶'"}},
"color":{"field":"s","type":"nominal","legend":null,"scale":{"domain":["a1.4","a2.6","a3.6","b200","b100","b50","b50t","c0.82","c0.69","c0.50","d8.75","d17.5","d35","k"],"range":["#111111","#cc1818","#3535dd","#157055","#cc1818","#3535dd","#28287a","#157055","#cc1818","#111111","#3535dd","#157055","#cc1818","#111111"]}},
"shape":{"field":"s","type":"nominal","legend":null,"scale":{"domain":["a1.4","a2.6","a3.6","b200","b100","b50","c0.82","c0.69","c0.50","d8.75","d17.5","d35"],"range":["diamond","diamond","diamond","diamond","square","triangle-up","diamond","circle","M-0.7,-0.7L0.7,0.7M0.7,-0.7L-0.7,0.7","square","circle","triangle-up"]}}}},
{"data":{"name":"nc"},"transform":[{"filter":"datum.k == 'arrow'"}],"mark":{"type":"rule","strokeWidth":1.4},
"encoding":{"x":{"field":"x","type":"quantitative"},"y":{"field":"y","type":"quantitative"},"x2":{"field":"x2"},"y2":{"field":"y2"},
"color":{"field":"s","type":"nominal","legend":null,"scale":{"domain":["a1.4","a2.6","a3.6","b200","b100","b50","b50t","c0.82","c0.69","c0.50","d8.75","d17.5","d35","k"],"range":["#111111","#cc1818","#3535dd","#157055","#cc1818","#3535dd","#28287a","#157055","#cc1818","#111111","#3535dd","#157055","#cc1818","#111111"]}}}},
{"data":{"name":"nc"},"transform":[{"filter":"datum.k == 'arrow'"}],"mark":{"type":"point","shape":"M0,0L0.33,1L-0.33,1Z","filled":true,"size":380,"angle":-136,"opacity":1},
"encoding":{"x":{"field":"x2","type":"quantitative"},"y":{"field":"y2","type":"quantitative"},
"color":{"field":"s","type":"nominal","legend":null,"scale":{"domain":["a1.4","a2.6","a3.6","b200","b100","b50","b50t","c0.82","c0.69","c0.50","d8.75","d17.5","d35","k"],"range":["#111111","#cc1818","#3535dd","#157055","#cc1818","#3535dd","#28287a","#157055","#cc1818","#111111","#3535dd","#157055","#cc1818","#111111"]}}}},
{"data":{"name":"nc"},"transform":[{"filter":"datum.k == 'lab'"}],"mark":{"type":"text","align":"left","baseline":"middle","fontSize":22},
"encoding":{"x":{"field":"x","type":"quantitative"},"y":{"field":"y","type":"quantitative"},"text":{"field":"t"},
"color":{"field":"s","type":"nominal","legend":null,"scale":{"domain":["a1.4","a2.6","a3.6","b200","b100","b50","b50t","c0.82","c0.69","c0.50","d8.75","d17.5","d35","k"],"range":["#111111","#cc1818","#3535dd","#157055","#cc1818","#3535dd","#28287a","#157055","#cc1818","#111111","#3535dd","#157055","#cc1818","#111111"]}}}},
{"data":{"name":"nc"},"transform":[{"filter":"datum.k == 'ctr'"}],"mark":{"type":"text","align":"center","baseline":"middle","fontSize":22,"color":"#111111"},
"encoding":{"x":{"field":"x","type":"quantitative"},"y":{"field":"y","type":"quantitative"},"text":{"field":"t"}}},
{"data":{"name":"nc"},"transform":[{"filter":"datum.k == 'tag'"}],"mark":{"type":"text","align":"center","baseline":"middle","fontSize":22,"fontStyle":"italic","color":"#111111"},
"encoding":{"x":{"field":"x","type":"quantitative"},"y":{"field":"y","type":"quantitative"},"text":{"field":"t"}}}
]},
{"width":361,"height":276,"layer":[
{"data":{"name":"pd"},"mark":{"type":"point","size":50,"strokeWidth":1.2,"opacity":1},
"encoding":{"x":{"field":"x","type":"quantitative","scale":{"domain":[0,400]},"axis":{"values":[0,100,200,300,400],"title":"ΔT (K)","labelPadding":7,"titlePadding":8,"labelFlush":false,"labelOverlap":false}},
"y":{"field":"y","type":"quantitative","scale":{"type":"log","domain":[0.000001,1]},"axis":{"values":[0.000001,0.00001,0.0001,0.001,0.01,0.1,1],"labels":false,"title":null}},
"color":{"field":"s","type":"nominal","legend":null,"scale":{"domain":["a1.4","a2.6","a3.6","b200","b100","b50","b50t","c0.82","c0.69","c0.50","d8.75","d17.5","d35","k"],"range":["#111111","#cc1818","#3535dd","#157055","#cc1818","#3535dd","#28287a","#157055","#cc1818","#111111","#3535dd","#157055","#cc1818","#111111"]}},
"shape":{"field":"s","type":"nominal","legend":null,"scale":{"domain":["a1.4","a2.6","a3.6","b200","b100","b50","c0.82","c0.69","c0.50","d8.75","d17.5","d35"],"range":["diamond","diamond","diamond","diamond","square","triangle-up","diamond","circle","M-0.7,-0.7L0.7,0.7M0.7,-0.7L-0.7,0.7","square","circle","triangle-up"]}}}},
{"data":{"name":"nd"},"transform":[{"filter":"datum.k == 'arrow'"}],"mark":{"type":"rule","strokeWidth":1.4},
"encoding":{"x":{"field":"x","type":"quantitative"},"y":{"field":"y","type":"quantitative"},"x2":{"field":"x2"},"y2":{"field":"y2"},
"color":{"field":"s","type":"nominal","legend":null,"scale":{"domain":["a1.4","a2.6","a3.6","b200","b100","b50","b50t","c0.82","c0.69","c0.50","d8.75","d17.5","d35","k"],"range":["#111111","#cc1818","#3535dd","#157055","#cc1818","#3535dd","#28287a","#157055","#cc1818","#111111","#3535dd","#157055","#cc1818","#111111"]}}}},
{"data":{"name":"nd"},"transform":[{"filter":"datum.k == 'arrow'"}],"mark":{"type":"point","shape":"M0,0L0.33,1L-0.33,1Z","filled":true,"size":380,"angle":-135,"opacity":1},
"encoding":{"x":{"field":"x2","type":"quantitative"},"y":{"field":"y2","type":"quantitative"},
"color":{"field":"s","type":"nominal","legend":null,"scale":{"domain":["a1.4","a2.6","a3.6","b200","b100","b50","b50t","c0.82","c0.69","c0.50","d8.75","d17.5","d35","k"],"range":["#111111","#cc1818","#3535dd","#157055","#cc1818","#3535dd","#28287a","#157055","#cc1818","#111111","#3535dd","#157055","#cc1818","#111111"]}}}},
{"data":{"name":"nd"},"transform":[{"filter":"datum.k == 'S'"}],"mark":{"type":"text","align":"left","baseline":"middle","fontSize":23,"fontStyle":"italic"},
"encoding":{"x":{"field":"x","type":"quantitative"},"y":{"field":"y","type":"quantitative"},"text":{"field":"t"},
"color":{"field":"s","type":"nominal","legend":null,"scale":{"domain":["a1.4","a2.6","a3.6","b200","b100","b50","b50t","c0.82","c0.69","c0.50","d8.75","d17.5","d35","k"],"range":["#111111","#cc1818","#3535dd","#157055","#cc1818","#3535dd","#28287a","#157055","#cc1818","#111111","#3535dd","#157055","#cc1818","#111111"]}}}},
{"data":{"name":"nd"},"transform":[{"filter":"datum.k == 'S'"}],"mark":{"type":"text","align":"left","baseline":"middle","fontSize":16,"dx":12,"dy":9},
"encoding":{"x":{"field":"x","type":"quantitative"},"y":{"field":"y","type":"quantitative"},"text":{"field":"t2"},
"color":{"field":"s","type":"nominal","legend":null,"scale":{"domain":["a1.4","a2.6","a3.6","b200","b100","b50","b50t","c0.82","c0.69","c0.50","d8.75","d17.5","d35","k"],"range":["#111111","#cc1818","#3535dd","#157055","#cc1818","#3535dd","#28287a","#157055","#cc1818","#111111","#3535dd","#157055","#cc1818","#111111"]}}}},
{"data":{"name":"nd"},"transform":[{"filter":"datum.k == 'S'"}],"mark":{"type":"text","align":"left","baseline":"middle","fontSize":22,"dx":46},
"encoding":{"x":{"field":"x","type":"quantitative"},"y":{"field":"y","type":"quantitative"},"text":{"field":"t3"},
"color":{"field":"s","type":"nominal","legend":null,"scale":{"domain":["a1.4","a2.6","a3.6","b200","b100","b50","b50t","c0.82","c0.69","c0.50","d8.75","d17.5","d35","k"],"range":["#111111","#cc1818","#3535dd","#157055","#cc1818","#3535dd","#28287a","#157055","#cc1818","#111111","#3535dd","#157055","#cc1818","#111111"]}}}},
{"data":{"name":"nd"},"transform":[{"filter":"datum.k == 'ctr'"}],"mark":{"type":"text","align":"center","baseline":"middle","fontSize":22,"color":"#111111"},
"encoding":{"x":{"field":"x","type":"quantitative"},"y":{"field":"y","type":"quantitative"},"text":{"field":"t"}}},
{"data":{"name":"nd"},"transform":[{"filter":"datum.k == 'tag'"}],"mark":{"type":"text","align":"center","baseline":"middle","fontSize":22,"fontStyle":"italic","color":"#111111"},
"encoding":{"x":{"field":"x","type":"quantitative"},"y":{"field":"y","type":"quantitative"},"text":{"field":"t"}}}
]}
]
}
